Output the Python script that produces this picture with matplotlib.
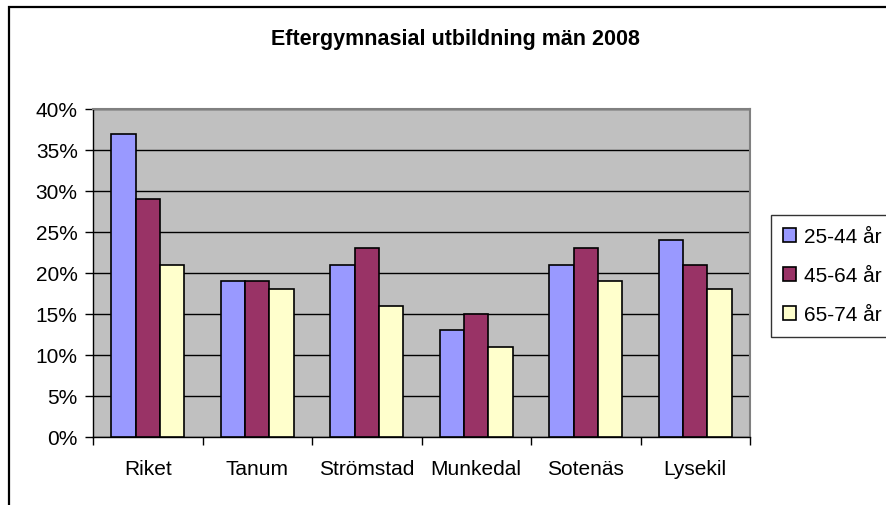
import matplotlib
matplotlib.use("Agg")
import matplotlib.pyplot as plt
import numpy as np
from matplotlib.patches import Rectangle
from matplotlib.ticker import FuncFormatter

plt.rcParams['font.family'] = ['Liberation Sans', 'DejaVu Sans']

categories = ["Riket", "Tanum", "Strömstad", "Munkedal", "Sotenäs", "Lysekil"]
series_names = ["25-44 år", "45-64 år", "65-74 år"]
v_25_44 = [37, 19, 21, 13, 21, 24]
v_45_64 = [29, 19, 23, 15, 23, 21]
v_65_74 = [21, 18, 16, 11, 19, 18]
colors = ["#9999FF", "#993366", "#FFFFCC"]
title = "Eftergymnasial utbildning män 2008"

W, H = 887, 506
fig = plt.figure(figsize=(W/100, H/100), dpi=100)
fig.patch.set_facecolor("white")

# outer chart border
fig.add_artist(Rectangle((9/W, -0.05), 1.2, 1 - 8/H + 0.05, transform=fig.transFigure,
                         fill=False, edgecolor="black", linewidth=1.6))

ax = fig.add_axes([93/W, 1-438/H, (750-93)/W, (438-110)/H])
ax.set_facecolor("#C0C0C0")

x = np.arange(len(categories))
w = 1/4.5
for i, (vals, c, name) in enumerate(zip([v_25_44, v_45_64, v_65_74], colors, series_names)):
    ax.bar(x + (i-1)*w, vals, width=w, color=c, edgecolor="black", linewidth=1.2,
           label=name, zorder=3)

ax.set_xlim(-0.5, len(categories)-0.5)
ax.set_ylim(0, 40)
ax.set_yticks(np.arange(0, 41, 5))
ax.yaxis.set_major_formatter(FuncFormatter(lambda v, p: f"{int(v)}%"))
ax.grid(axis="y", color="black", linewidth=1.0, zorder=1)
ax.set_axisbelow(True)

ax.set_xticks(x)
ax.set_xticklabels(categories, fontsize=15)
ax.tick_params(axis="x", length=0, pad=16)
ax.set_xticks(np.arange(-0.5, len(categories), 1), minor=True)
ax.tick_params(axis="x", which="minor", length=6, width=1, direction="out")
ax.tick_params(axis="y", length=6, width=1, direction="out", labelsize=15, pad=5)

for s in ["left", "bottom"]:
    ax.spines[s].set_color("black")
    ax.spines[s].set_linewidth(1.0)
for s in ["top", "right"]:
    ax.spines[s].set_color("#808080")
    ax.spines[s].set_linewidth(1.5)

fig.text(455/W, 1-40/H, title, ha="center", va="center", fontsize=15.5, fontweight="bold")

leg = fig.legend(loc="upper left", bbox_to_anchor=(771/W, 1-216/H), fontsize=15,
                 frameon=True, fancybox=False, edgecolor="black", handlelength=0.62,
                 handleheight=0.62, handletextpad=0.35, borderpad=0.6, labelspacing=0.95,
                 borderaxespad=0)
leg.get_frame().set_linewidth(1.0)
for h in leg.legend_handles:
    h.set_linewidth(1.2)

fig.savefig("out.png", dpi=100)
